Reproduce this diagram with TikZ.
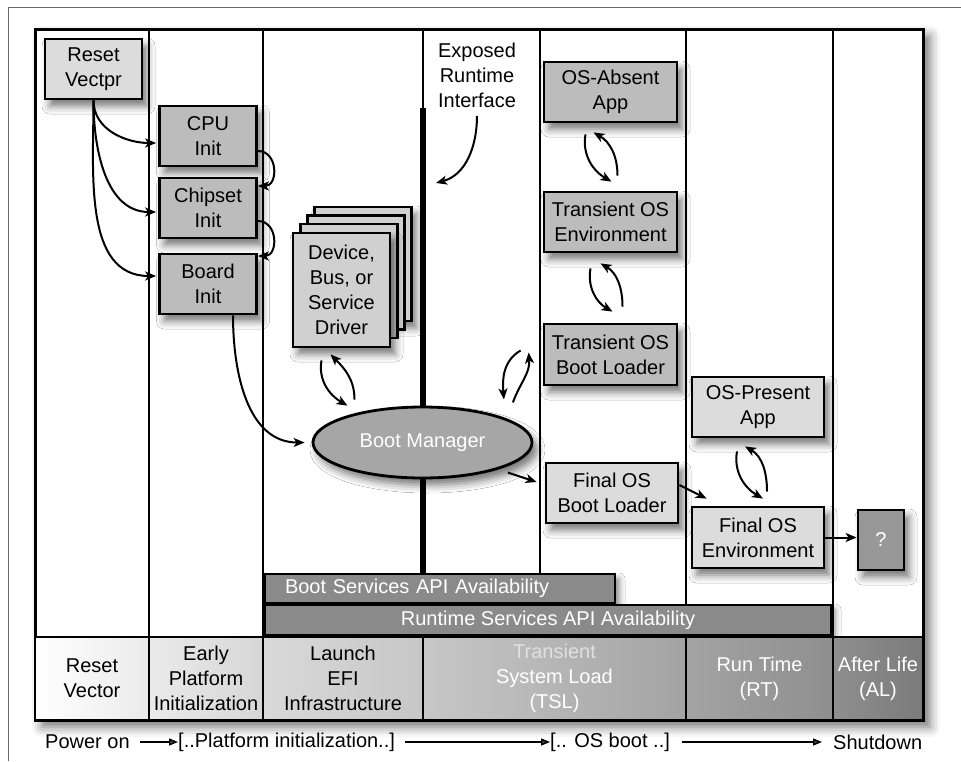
\documentclass[tikz,border=0pt]{standalone}
\usepackage{fontspec}
\setmainfont{Liberation Sans}
\usetikzlibrary{arrows.meta,shapes.geometric,shadows.blur}
\definecolor{boxlight}{HTML}{DCDCDC}
\definecolor{boxmid}{HTML}{BCBCBC}
\definecolor{drvfill}{HTML}{D0D0D0}
\definecolor{mgrfill}{HTML}{A6A6A6}
\definecolor{qfill}{HTML}{989898}
\definecolor{barfill}{HTML}{8A8A8A}
\definecolor{pagegray}{HTML}{6A6A6A}
\begin{document}
\begin{tikzpicture}[x=1pt,y=1pt,
  every node/.style={font=\fontsize{20}{25}\selectfont},
  box/.style={draw,line width=2.8pt,align=center,inner sep=0pt,
    blur shadow={shadow xshift=5pt,shadow yshift=-7pt,shadow blur radius=8pt,shadow opacity=55}},
  plainbox/.style={draw,line width=2.8pt,align=center,inner sep=0pt},
  bar/.style={draw,line width=2.6pt,fill=barfill,text=white,inner sep=0pt,
    blur shadow={shadow xshift=4pt,shadow yshift=-5pt,shadow blur radius=6pt,shadow opacity=50}},
  cell/.style={draw,line width=2.6pt,align=center,inner sep=0pt,minimum height=83},
  flow/.style={line width=2pt,-{Stealth[length=11pt,width=9pt,inset=3pt]}},
  lead/.style={line width=1.4pt,-{Triangle[length=9pt,width=7pt]}}]

\useasboundingbox (0,0) rectangle (961,-761);
\draw[line width=1pt,pagegray] (8,-761) -- (8,-7) -- (961,-7);
\draw[line width=3pt,fill=white,blur shadow={shadow xshift=7pt,shadow yshift=-7pt,shadow blur radius=10pt,shadow opacity=55}] (35,-29) rectangle (923,-720);

\draw[line width=2.6pt] (149,-29) -- (149,-637);
\draw[line width=2.6pt] (263,-29) -- (263,-637);
\draw[line width=2.6pt] (423,-29) -- (423,-108);
\draw[line width=6.5pt] (423,-108) -- (423,-574);
\draw[line width=2.6pt] (540,-29) -- (540,-574);
\draw[line width=2.6pt] (686,-29) -- (686,-605);
\draw[line width=2.6pt] (833,-29) -- (833,-637);

\node[bar,minimum width=350,minimum height=29,text width=310,align=left] (bootapi) at (440,-588.5) {Boot Services API Availability};
\node[bar,minimum width=566,minimum height=30] (rtapi) at (548,-620) {Runtime Services API Availability};

\node[cell,minimum width=114,left color=white,right color=black!8] (rv) at (92,-678.5) {Reset\\Vector};
\node[cell,minimum width=114,left color=black!8,right color=black!16] (epi) at (206,-678.5) {Early\\Platform\\Initialization};
\node[cell,minimum width=160,left color=black!15,right color=black!22] (lefi) at (343,-678.5) {Launch\\EFI\\Infrastructure};
\node[cell,minimum width=263,left color=black!22,right color=black!36,text=white] (tsl) at (554.5,-678.5) {\textcolor{black!12}{Transient}\\System Load\\(TSL)};
\node[cell,minimum width=147,left color=black!36,right color=black!44,text=white] (rt) at (759.5,-678.5) {Run Time\\(RT)};
\node[cell,minimum width=90,left color=black!44,right color=black!52,text=white] (al) at (878,-678.5) {After Life\\(AL)};

\node[box,fill=boxlight,minimum width=97,minimum height=60] (reset) at (93.5,-69) {Reset\\Vectpr};
\node[box,fill=boxmid,minimum width=97,minimum height=60] (cpu) at (208,-136) {CPU\\Init};
\node[box,fill=boxmid,minimum width=97,minimum height=60] (chipset) at (208,-208) {Chipset\\Init};
\node[box,fill=boxmid,minimum width=97,minimum height=60] (board) at (208,-284) {Board\\Init};

\node[box,fill=drvfill,minimum width=97,minimum height=114] (drvc) at (363,-264) {};
\node[plainbox,fill=drvfill,minimum width=97,minimum height=114] (drvb) at (356,-272.5) {};
\node[plainbox,fill=drvfill,minimum width=97,minimum height=114] (drva) at (349,-281) {};
\node[box,fill=drvfill,minimum width=97,minimum height=114] (drv) at (341.5,-290) {Device,\\Bus, or\\Service\\Driver};

\node[ellipse,draw,line width=2.8pt,fill=mgrfill,text=white,minimum width=219,minimum height=71,inner sep=0pt,
  blur shadow={shadow xshift=5pt,shadow yshift=-7pt,shadow blur radius=8pt,shadow opacity=55}] (bootmgr) at (422.5,-442.5) {Boot Manager};

\node[align=center] (expo) at (477,-75) {Exposed\\Runtime\\Interface};
\coordinate (rtif) at (436,-183);

\node[box,fill=boxmid,minimum width=133,minimum height=60] (osabsent) at (610.5,-92) {OS-Absent\\App};
\node[box,fill=boxmid,minimum width=133,minimum height=60] (tosenv) at (610.5,-222) {Transient OS\\Environment};
\node[box,fill=boxmid,minimum width=133,minimum height=61] (tosbl) at (610.5,-354.5) {Transient OS\\Boot Loader};
\node[box,fill=boxlight,minimum width=132,minimum height=60] (ospresent) at (758,-407) {OS-Present\\App};
\node[box,fill=boxlight,minimum width=132,minimum height=60] (finalbl) at (612,-493) {Final OS\\Boot Loader};
\node[box,fill=boxlight,minimum width=132,minimum height=61] (finalenv) at (758,-537.5) {Final OS\\Environment};
\node[box,fill=qfill,text=white,minimum width=46,minimum height=60] (q) at (881,-540) {?};

\draw[flow] (reset.south) to[out=-90,in=180] ([shift={(-2,-7)}]cpu.west);
\draw[flow] (reset.south) to[out=-90,in=180] ([shift={(-2,-4)}]chipset.west);
\draw[flow] (reset.south) to[out=-90,in=180] ([shift={(-2,8)}]board.west);
\draw[flow] ([yshift=-15]cpu.east) to[out=0,in=0,looseness=1.5] ([yshift=22]chipset.east);
\draw[flow] ([yshift=-13]chipset.east) to[out=0,in=0,looseness=1.5] ([yshift=28]board.east);
\draw[flow] ([xshift=25]board.south) to[out=-90,in=180] ([xshift=-7]bootmgr.west);

\draw[flow] ([shift={(-20,-12)}]drv.south) to[out=-100,in=150] ([xshift=-75]bootmgr.north);
\draw[flow] ([shift={(-68,6)}]bootmgr.north) to[out=90,in=-45] ([shift={(-11,-6)}]drv.south);
\draw[flow] ([shift={(-22,4)}]tosbl.west) to[out=-150,in=95] ([shift={(3,17)}]bootmgr.north east);
\draw[flow] ([shift={(12,14)}]bootmgr.north east) to[out=70,in=-85] ([shift={(-14,2)}]tosbl.west);

\draw[flow] ([shift={(-25,-11)}]osabsent.south) to[out=-100,in=150] ([shift={(1,9)}]tosenv.north);
\draw[flow] ([shift={(7,15)}]tosenv.north) to[out=90,in=-30] ([shift={(-17,-9)}]osabsent.south);
\draw[flow] ([shift={(-20,-15)}]tosenv.south) to[out=-100,in=150] ([shift={(2,11)}]tosbl.north);
\draw[flow] ([shift={(12,16)}]tosbl.north) to[out=90,in=-30] ([shift={(-10,-10)}]tosenv.south);
\draw[flow] ([shift={(-21,-13)}]ospresent.south) to[out=-100,in=150] ([shift={(5,7)}]finalenv.north);
\draw[flow] ([shift={(9,14)}]finalenv.north) to[out=90,in=-30] ([shift={(-13,-8)}]ospresent.south);

\draw[flow] ([shift={(7,-4)}]bootmgr.south east) -- ([shift={(-8,11)}]finalbl.west);
\draw[flow] ([yshift=8]finalbl.east) -- ([shift={(16,7)}]finalenv.north west);
\draw[flow] (finalenv.east) -- (finalenv.east -| q.west);
\draw[flow] ([yshift=-5]expo.south) to[out=-90,in=15] (rtif);

\node[anchor=west,inner sep=0pt] (pwr) at (45,-742) {Power on};
\node[anchor=west,inner sep=0pt] (pinit) at (178,-742) {[..Platform initialization..]};
\node[anchor=west,inner sep=0pt] (osboot) at (550,-742) {[.. OS boot ..]};
\node[anchor=west,inner sep=0pt] (shdn) at (833,-742) {Shutdown};
\draw[lead] ([xshift=10]pwr.east) -- (pinit.west);
\draw[lead] ([xshift=10]pinit.east) -- (osboot.west);
\draw[lead] ([xshift=12]osboot.east) -- ([xshift=-11]shdn.west);
\end{tikzpicture}
\end{document}
